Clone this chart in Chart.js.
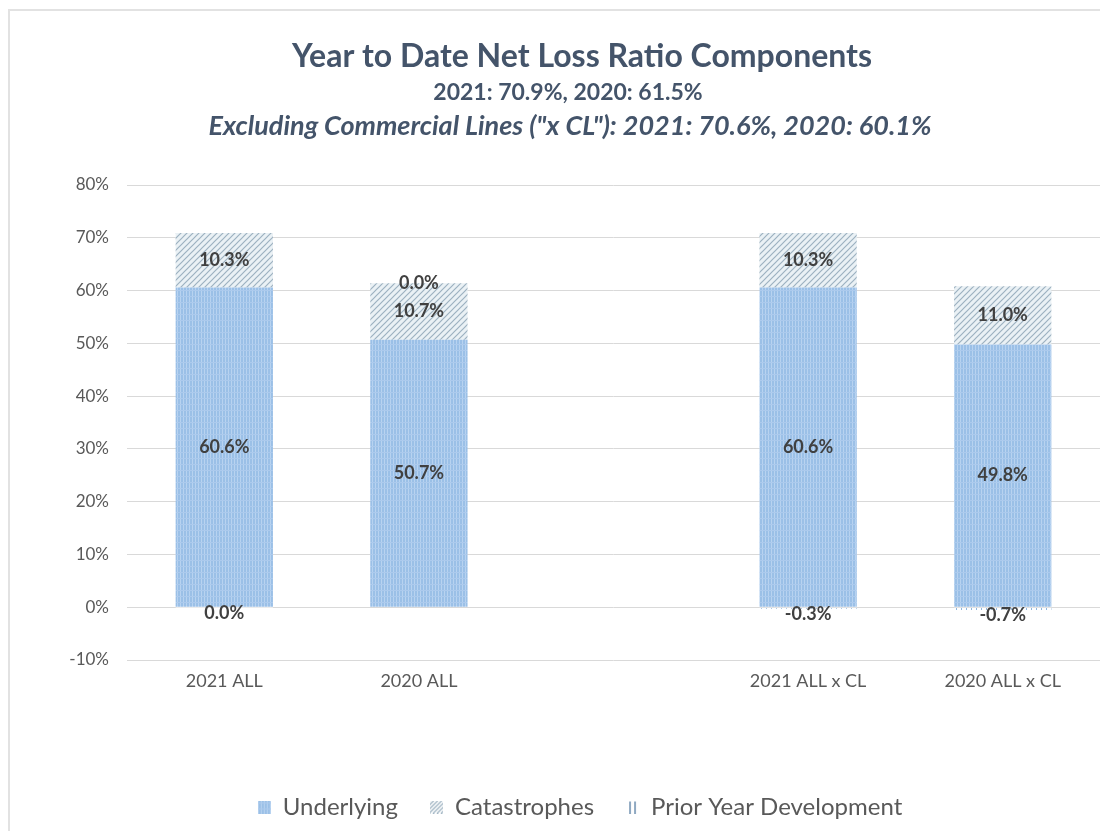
<!DOCTYPE html>
<html>
<head>
<meta charset="utf-8">
<script src="https://cdn.jsdelivr.net/npm/chart.js@4.4.1/dist/chart.umd.min.js"></script>
<style>
  html, body { margin: 0; padding: 0; background: #fff; }
  #wrap { width: 1100px; height: 831px; position: relative; }
</style>
</head>
<body>
<div id="wrap"><canvas id="c" width="1100" height="831"></canvas></div>
<script>
// data
const categories = ['2021 ALL', '2020 ALL', '', '2021 ALL x CL', '2020 ALL x CL'];
const underlying = [60.6, 50.7, null, 60.6, 49.8];
const catastrophes = [10.3, 10.7, null, 10.3, 11.0];
const priorYear = [-0.02, 0.04, null, -0.3, -0.7];
const yTicks = [-10, 0, 10, 20, 30, 40, 50, 60, 70, 80];

const titleLines = [
  { text: 'Year to Date Net Loss Ratio Components', font: 'bold 32px Lato', x: 582, y: 57 },
  { text: '2021: 70.9%, 2020: 61.5%', font: 'bold 23px Lato', x: 568, y: 93 },
  { text: 'Excluding Commercial Lines ("x CL"): 2021: 70.6%, 2020: 60.1%', font: 'italic bold 27px Lato', x: 570, y: 126 }
];

const canvas = document.getElementById('c');
const ctx = canvas.getContext('2d');

function makeTile(w, h, draw) {
  const t = document.createElement('canvas');
  t.width = w; t.height = h;
  draw(t.getContext('2d'));
  return t;
}

// small pattern tiles
const underTile = makeTile(6, 6, g => {
  g.fillStyle = '#9bc0e7'; g.fillRect(0, 0, 6, 6);
  g.fillStyle = '#b8d3f0';
  g.fillRect(0, 0, 1, 6); g.fillRect(3, 0, 1, 6);
  g.fillStyle = '#accaed';
  g.fillRect(0, 2, 6, 1);
});
const catTile = makeTile(6, 6, g => {
  g.fillStyle = '#eaf1f5'; g.fillRect(0, 0, 6, 6);
  g.strokeStyle = '#9cb1c0'; g.lineWidth = 1.2;
  g.beginPath();
  g.moveTo(-1, 7); g.lineTo(7, -1);
  g.moveTo(-1, 1); g.lineTo(1, -1);
  g.moveTo(5, 7); g.lineTo(7, 5);
  g.stroke();
});
const pyTile = makeTile(5, 4, g => {
  g.fillStyle = '#ffffff'; g.fillRect(0, 0, 5, 4);
  g.fillStyle = '#8fb6de'; g.fillRect(1, 0, 1, 2);
});

const underPattern = ctx.createPattern(underTile, 'repeat');
const catPattern = ctx.createPattern(catTile, 'repeat');
const pyPattern = ctx.createPattern(pyTile, 'repeat');

// legend icons
const underIcon = makeTile(13, 13, g => {
  g.fillStyle = g.createPattern(underTile, 'repeat'); g.fillRect(0, 0, 13, 13);
});
const catIcon = makeTile(13, 13, g => {
  g.fillStyle = '#ffffff'; g.fillRect(0, 0, 13, 13);
  g.strokeStyle = '#a5b8c6'; g.lineWidth = 1.4;
  g.beginPath();
  for (let i = 0; i < 26; i += 4) { g.moveTo(i - 13, 13); g.lineTo(i, 0); }
  g.stroke();
});
const pyIcon = makeTile(13, 13, g => {
  g.fillStyle = '#ffffff'; g.fillRect(0, 0, 13, 13);
  g.fillStyle = '#8fa9c2';
  g.fillRect(3, 1, 2, 12); g.fillRect(8, 1, 2, 12);
});

function fmt(v) {
  if (Math.abs(v) < 0.05) return '0.0%';
  return v.toFixed(1) + '%';
}

const decor = {
  id: 'decor',
  afterLayout(chart) {
    // legend in the original sits a little right of centre
    chart.legend.left += 30;
    chart.legend.right += 30;
  },
  beforeDraw(chart) {
    const g = chart.ctx;
    g.save();
    g.fillStyle = '#ffffff';
    g.fillRect(0, 0, chart.width, chart.height);
    g.strokeStyle = '#e2e2e2';
    g.lineWidth = 2;
    g.beginPath();
    g.moveTo(9, chart.height); g.lineTo(9, 10); g.lineTo(chart.width, 10);
    g.stroke();
    g.restore();
  },
  afterDraw(chart) {
    const g = chart.ctx;
    g.save();
    g.fillStyle = '#44546A';
    g.textAlign = 'center';
    g.textBaseline = 'middle';
    titleLines.forEach(l => {
      g.font = l.font;
      g.fillText(l.text, l.x, l.y);
    });
    g.restore();
  },
  afterDatasetsDraw(chart) {
    const g = chart.ctx;
    g.save();
    g.font = 'bold 18px Lato';
    g.fillStyle = '#404040';
    g.textAlign = 'center';
    g.textBaseline = 'middle';
    chart.data.datasets.forEach((ds, di) => {
      const meta = chart.getDatasetMeta(di);
      meta.data.forEach((el, i) => {
        const v = ds.data[i];
        if (v === null || v === undefined) return;
        const y = (el.y + el.base) / 2;
        g.fillText(fmt(v), el.x, y + (di === 2 && v <= 0 ? 6 : 0));
      });
    });
    g.restore();
  }
};

new Chart(ctx, {
  type: 'bar',
  data: {
    labels: categories,
    datasets: [
      { label: 'Underlying', data: underlying, backgroundColor: underPattern, pointStyle: underIcon },
      { label: 'Catastrophes', data: catastrophes, backgroundColor: catPattern, pointStyle: catIcon },
      { label: 'Prior Year Development', data: priorYear, backgroundColor: pyPattern, pointStyle: pyIcon }
    ]
  },
  options: {
    responsive: false,
    animation: false,
    layout: { padding: { top: 185, left: 0, right: 0, bottom: 2 } },
    datasets: { bar: { categoryPercentage: 1, barPercentage: 0.5 } },
    plugins: {
      title: { display: false },
      tooltip: { enabled: false },
      legend: {
        position: 'bottom',
        labels: {
          usePointStyle: true,
          boxWidth: 13,
          color: '#595959',
          font: { family: 'Lato', size: 24 },
          padding: 32
        }
      }
    },
    scales: {
      x: {
        stacked: true,
        grid: { display: false },
        border: { display: false },
        ticks: { color: '#595959', font: { family: 'Lato', size: 18 }, padding: 2 },
        afterFit: s => { s.height = 103; }
      },
      y: {
        stacked: true,
        min: -10,
        max: 80,
        afterBuildTicks: s => { s.ticks = yTicks.map(v => ({ value: v })); },
        grid: { color: '#d9d9d9', drawTicks: false },
        border: { display: false },
        ticks: { color: '#595959', font: { family: 'Lato', size: 17 }, padding: 18, callback: v => v + '%' },
        afterFit: s => { s.width = 127; }
      }
    }
  },
  plugins: [decor]
});
</script>
</body>
</html>
